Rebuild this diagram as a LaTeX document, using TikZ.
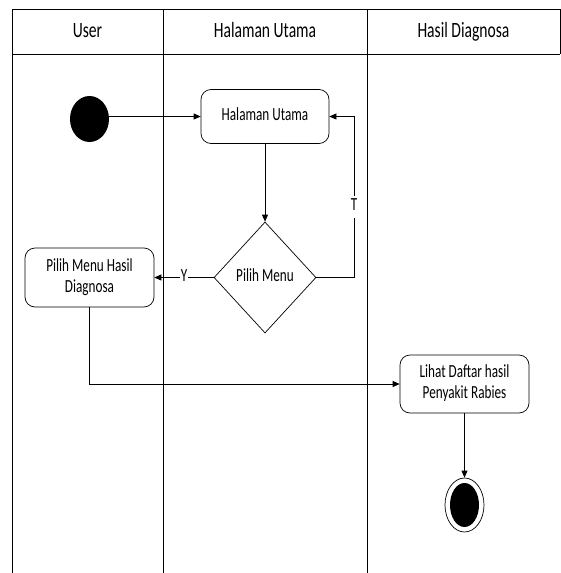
\documentclass[tikz,border=0pt]{standalone}
\usepackage{graphicx}
\usepackage{fontspec}
\setmainfont{Carlito}
\usetikzlibrary{shapes.geometric,arrows.meta}
\newcommand{\stx}[1]{\scalebox{1}[1.4]{\begin{tabular}{@{}c@{}}#1\end{tabular}}}
\begin{document}
\begin{tikzpicture}[x=1pt,y=-1pt,
  lane/.style={draw=black,line width=0.8pt},
  act/.style={draw,rounded corners=10pt,line width=0.7pt,font=\fontsize{13.2}{15}\selectfont,align=center,inner sep=0pt},
  flow/.style={draw,line width=0.7pt,-{Triangle[length=7pt,width=6pt]}},
  hdr/.style={font=\fontsize{15.6}{18}\selectfont,inner sep=0pt},
  lbl/.style={fill=white,inner sep=0.5pt,font=\fontsize{13.2}{15}\selectfont}]
\useasboundingbox (0,0) rectangle (561,573);
% swimlanes
\draw[lane] (12,573) -- (12,9) -- (560,9) -- (560,54);
\draw[lane] (12,54) -- (560,54);
\draw[lane] (163,9) -- (163,573);
\draw[lane] (367,9) -- (367,573);
\node[hdr] (h1) at (87.5,32) {\stx{User}};
\node[hdr] (h2) at (265,32) {\stx{Halaman Utama}};
\node[hdr] (h3) at (463.5,32) {\stx{Hasil Diagnosa}};
% nodes
\node[ellipse,fill=black,minimum width=39pt,minimum height=46pt,inner sep=0pt] (start) at (89.5,119) {};
\node[act,minimum width=128pt,minimum height=54pt] (hu) at (265,116.5) {\stx{Halaman Utama}};
\node[diamond,draw,line width=0.7pt,minimum width=102pt,minimum height=111pt,inner sep=0pt,font=\fontsize{13.2}{15}\selectfont] (pm) at (265,277.5) {\stx{Pilih Menu}};
\node[act,minimum width=129pt,minimum height=59pt] (phd) at (89.5,277.5) {\stx{Pilih Menu Hasil\\Diagnosa}};
\node[act,minimum width=129pt,minimum height=58pt] (ld) at (464.5,384) {\stx{Lihat Daftar hasil\\Penyakit Rabies}};
\node[ellipse,draw,line width=0.7pt,minimum width=39pt,minimum height=54pt,inner sep=0pt] (end) at (464.5,505) {};
\node[ellipse,fill=black,minimum width=29pt,minimum height=44pt,inner sep=0pt] (endin) at (end.center) {};
\coordinate (tc) at (354,116.5);
% connectors
\draw[flow] (start.east |- hu.west) -- (hu.west);
\draw[flow] (hu.south) -- (pm.north);
\draw[flow] (pm.east) -| node[lbl,pos=0.72]{\stx{T}} (tc) -- (hu.east);
\draw[flow] (pm.west) -- node[lbl]{\stx{Y}} (phd.east);
\draw[flow] (phd.south) |- (ld.west);
\draw[flow] (ld.south) -- (end.north);
\end{tikzpicture}
\end{document}
